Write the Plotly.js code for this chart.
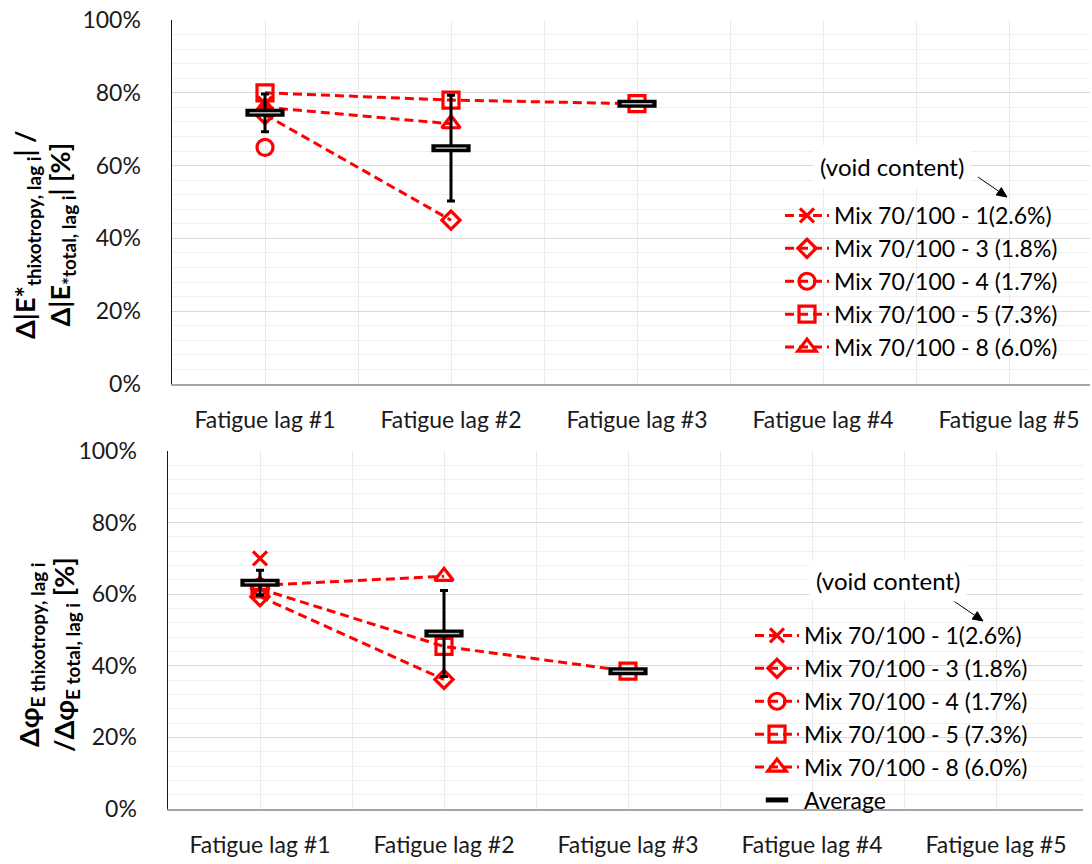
<!DOCTYPE html>
<html><head><meta charset="utf-8">
<script src="https://cdn.plot.ly/plotly-3.0.1.min.js"></script>
<style>html,body{margin:0;padding:0;background:#fff}#chart{width:1092px;height:864px}</style>
</head><body><div id="chart"></div>
<script>
const categories = ['Fatigue lag #1','Fatigue lag #2','Fatigue lag #3','Fatigue lag #4','Fatigue lag #5'];
const seriesNames = ['Mix 70/100 - 1(2.6%)','Mix 70/100 - 3 (1.8%)','Mix 70/100 - 4 (1.7%)','Mix 70/100 - 5 (7.3%)','Mix 70/100 - 8 (6.0%)'];
const yTicks = [0, 20, 40, 60, 80, 100];
// top panel: Δ|E*| ratio (%)
const topMix1 = [77];
const topMix3 = [74, 45];
const topMix4 = [65];
const topMix5 = [80, 78, 77];
const topMix8 = [76, 71.5];
const topAvg = [74.5, 64.8, 77];
const topAvgErr = [5.2, 14.5, 0];
// bottom panel: Δφ ratio (%)
const botMix1 = [70];
const botMix3 = [59.3, 36.2];
const botMix4 = [62];
const botMix5 = [61.5, 45.4, 38.5];
const botMix8 = [62.5, 65];
const botAvg = [63.2, 49, 38.5];
const botAvgErr = [3.5, 12, 0];

const xs = categories.map((c, i) => i + 1);
const RED = '#ff0000';
const symbols = ['x-thin-open', 'diamond-open', 'circle-open', 'square-open', 'triangle-up-open'];
const sizes = [14, 14, 16, 16, 16];
const FONT = 'Lato, "Open Sans", sans-serif';

function redTrace(vals, k, xa, ya, leg) {
  return {
    type: 'scatter', mode: 'lines+markers',
    x: xs.slice(0, vals.length), y: vals,
    name: seriesNames[k], xaxis: xa, yaxis: ya, legend: leg,
    line: {color: RED, width: 3, dash: '9px,5px'},
    marker: {symbol: symbols[k], size: sizes[k], color: RED, line: {color: RED, width: 3.2}},
    cliponaxis: false
  };
}
function avgTraces(vals, err, xa, ya, leg, showLeg) {
  return [{
    type: 'scatter', mode: 'markers', x: xs.slice(0, vals.length), y: vals,
    name: 'Average', xaxis: xa, yaxis: ya, legend: leg, showlegend: showLeg,
    marker: {symbol: 'line-ew', size: 28, color: '#000', line: {color: '#000', width: 8}},
    error_y: {type: 'data', array: err, visible: true, color: '#000', thickness: 3, width: 4},
    cliponaxis: false
  }, {
    type: 'scatter', mode: 'markers', x: xs.slice(0, vals.length), y: vals,
    name: 'Average', xaxis: xa, yaxis: ya, showlegend: false, hoverinfo: 'skip',
    marker: {symbol: 'line-ew', size: 22, color: '#bbb', line: {color: '#bbb', width: 1.5}},
    cliponaxis: false
  }];
}

const topVals = [topMix1, topMix3, topMix4, topMix5, topMix8];
const botVals = [botMix1, botMix3, botMix4, botMix5, botMix8];
const data = [];
topVals.forEach((v, k) => data.push(redTrace(v, k, 'x', 'y', 'legend')));
data.push(...avgTraces(topAvg, topAvgErr, 'x', 'y', 'legend', false));
botVals.forEach((v, k) => data.push(redTrace(v, k, 'x2', 'y2', 'legend2')));
data.push(...avgTraces(botAvg, botAvgErr, 'x2', 'y2', 'legend2', true));

function xaxis(domain, range, anchor) {
  return {
    domain: domain, range: range, anchor: anchor, automargin: false,
    tickmode: 'array', tickvals: xs, ticktext: categories,
    showgrid: true, gridcolor: '#ebebeb', gridwidth: 1,
    minor: {tickmode: 'linear', tick0: 0.5, dtick: 1, showgrid: true, gridcolor: '#ebebeb', ticks: ''},
    showline: true, linecolor: '#a6a6a6', linewidth: 1.5,
    zeroline: false, ticks: '', ticklabelstandoff: 15,
    tickfont: {family: FONT, size: 23, color: '#1a1a1a'}
  };
}
function yaxis(domain, anchor) {
  return {
    domain: domain, range: [0, 100], anchor: anchor, automargin: false,
    tickmode: 'array', tickvals: yTicks, ticktext: yTicks.map(v => v + '%'),
    showgrid: true, gridcolor: '#d9d9d9', gridwidth: 1.3,
    minor: {tickmode: 'linear', tick0: 0, dtick: 4, showgrid: true, gridcolor: '#f0f0f0', gridwidth: 1, ticks: ''},
    showline: true, linecolor: '#1a1a1a', linewidth: 1.5,
    zeroline: false, ticks: '', ticklabelstandoff: 25,
    tickfont: {family: FONT, size: 23, color: '#1a1a1a'}
  };
}

const W = 1092, H = 864;
// arrow from (x0,y0) to (x1,y1) in pixels -> shapes in paper coordinates
function arrowShapes(x0, y0, x1, y1) {
  const dx = x1 - x0, dy = y1 - y0, L = Math.hypot(dx, dy);
  const ux = dx / L, uy = dy / L, hl = 10, hw = 4.5;
  const bx = x1 - ux * hl, by = y1 - uy * hl;
  const p = (x, y) => (x / W) + ',' + (1 - y / H);
  return [
    {type: 'line', xref: 'paper', yref: 'paper', x0: x0 / W, y0: 1 - y0 / H, x1: bx / W, y1: 1 - by / H,
     line: {color: '#000', width: 1}},
    {type: 'path', xref: 'paper', yref: 'paper', fillcolor: '#000', line: {color: '#000', width: 1},
     path: 'M' + p(x1, y1) + 'L' + p(bx - uy * hw, by + ux * hw) + 'L' + p(bx + uy * hw, by - ux * hw) + 'Z'}
  ];
}

const layout = {
  width: W, height: H, margin: {l: 0, r: 0, t: 0, b: 0},
  paper_bgcolor: '#fff', plot_bgcolor: '#fff',
  font: {family: FONT, color: '#000'},
  xaxis: xaxis([172 / W, 1090 / W], [0.5, 0.5 + (1090 - 172) / 186], 'y'),
  yaxis: yaxis([1 - 384 / H, 1 - 20 / H], 'x'),
  xaxis2: xaxis([168 / W, 1083 / W], [0.5, 0.5 + (1083 - 168) / 184], 'y2'),
  yaxis2: yaxis([1 - 809 / H, 1 - 451 / H], 'x2'),
  legend: {x: 780 / W, y: 1 - 194 / H, xanchor: 'left', yanchor: 'top', bgcolor: 'rgba(255,255,255,0)',
           font: {family: FONT, size: 23, color: '#000'}, itemwidth: 44, tracegroupgap: 0},
  legend2: {x: 750 / W, y: 1 - 614 / H, xanchor: 'left', yanchor: 'top', bgcolor: 'rgba(255,255,255,0)',
            font: {family: FONT, size: 23, color: '#000'}, itemwidth: 44, tracegroupgap: 0},
  showlegend: true,
  shapes: [].concat(arrowShapes(978, 177, 1007, 197), arrowShapes(942, 593, 983, 621)),
  annotations: [
    {xref: 'paper', yref: 'paper', x: 44 / W, y: 1 - 235 / H, xanchor: 'center', yanchor: 'middle',
     textangle: -90, showarrow: false, align: 'center',
     text: '<b>Δ|E*<sub>thixotropy, lag i</sub>| /<br>Δ|E<sub>*total, lag i</sub>| [%]</b>',
     font: {family: FONT, size: 27, color: '#000'}},
    {xref: 'paper', yref: 'paper', x: 48 / W, y: 1 - 655 / H, xanchor: 'center', yanchor: 'middle',
     textangle: -90, showarrow: false, align: 'center',
     text: '<b>Δφ<sub>E thixotropy, lag i</sub><br>/Δφ<sub>E total, lag i</sub> [%]</b>',
     font: {family: FONT, size: 27, color: '#000'}},
    {xref: 'paper', yref: 'paper', x: 892 / W, y: 1 - 167 / H, xanchor: 'center', yanchor: 'middle',
     showarrow: false, text: '(void content)', bgcolor: '#fff', borderpad: 6,
     font: {family: FONT, size: 24, color: '#000'}},
    {xref: 'paper', yref: 'paper', x: 888 / W, y: 1 - 580 / H, xanchor: 'center', yanchor: 'middle',
     showarrow: false, text: '(void content)', bgcolor: '#fff', borderpad: 6,
     font: {family: FONT, size: 24, color: '#000'}}
  ]
};
Plotly.newPlot('chart', data, layout, {displayModeBar: false, staticPlot: true});
</script>
</body></html>
